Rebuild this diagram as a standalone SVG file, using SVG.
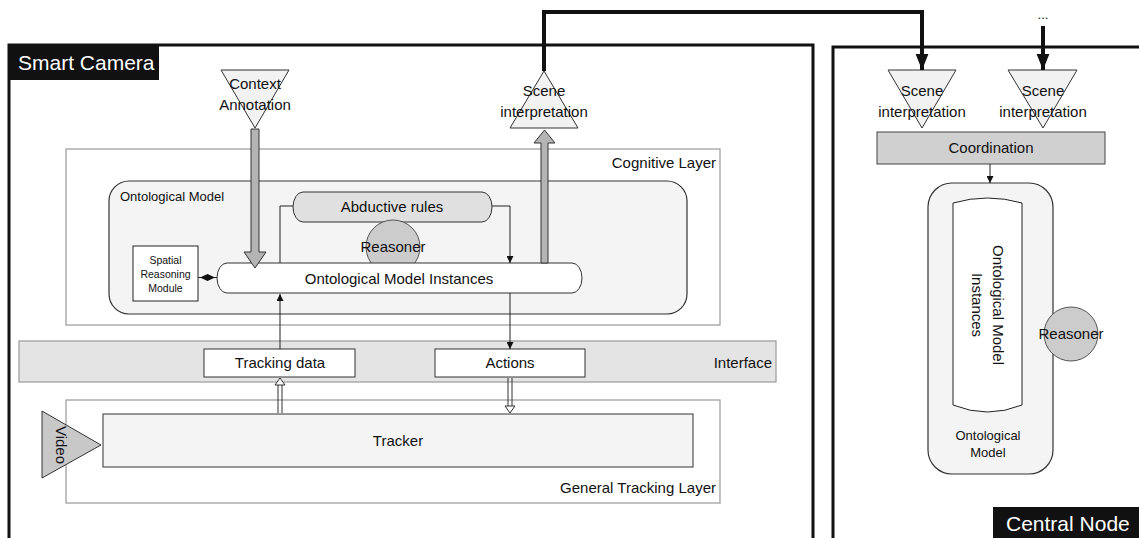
<svg xmlns="http://www.w3.org/2000/svg" width="1139" height="538" viewBox="0 0 1139 538">
<style>
text{font-family:"Liberation Sans",Arial,sans-serif;fill:#111}
.lbl{font-size:15px}
.c{text-anchor:middle}
.r{text-anchor:end}
.layer{fill:#fff;stroke:#a0a0a0;stroke-width:1.3}
.frame{fill:none;stroke:#111;stroke-width:3}
.tri{fill:#f2f2f2;stroke:#333;stroke-width:1}
.thin{fill:none;stroke:#222;stroke-width:1}
.fat{fill:#b4b4b4;stroke:#333;stroke-width:1}
.black{fill:none;stroke:#111;stroke-width:4}
</style>
<defs>
<marker id="ah" viewBox="0 0 10 10" refX="10" refY="5" markerWidth="7" markerHeight="7" orient="auto" markerUnits="userSpaceOnUse">
<path d="M0,0 L10,5 L0,10 Z" fill="#111"/>
</marker>
<marker id="bh" viewBox="0 0 10 10" refX="10" refY="5" markerWidth="16" markerHeight="16" orient="auto" markerUnits="userSpaceOnUse">
<path d="M0,1 L10,5 L0,9 Z" fill="#111"/>
</marker>
</defs>

<!-- frames -->
<g id="smart-camera">
<path class="frame" d="M9,540 V45 H813 V540"/>
<rect x="9" y="45" width="150" height="35" fill="#111"/>
<text x="18" y="70" style="font-size:21px;fill:#fff">Smart Camera</text>
</g>
<g id="central-node">
<path class="frame" d="M833,540 V47 H1141"/>
<rect x="993" y="507" width="148" height="33" fill="#111"/>
<text x="1006" y="531" style="font-size:21px;fill:#fff">Central Node</text>
</g>

<!-- layers -->
<g id="cognitive-layer">
<rect class="layer" x="66" y="149" width="654" height="176"/>
<text class="lbl r" x="716" y="168">Cognitive Layer</text>
</g>
<g id="ontological-model">
<rect x="109" y="181" width="578" height="133" rx="20" fill="#f4f4f4" stroke="#333" stroke-width="1.2"/>
<text x="120" y="201" style="font-size:13px">Ontological Model</text>
</g>
<g id="interface">
<rect x="19" y="341" width="757" height="41" fill="#e4e4e4" stroke="#a0a0a0" stroke-width="1.3"/>
<text class="lbl r" x="772" y="368">Interface</text>
</g>
<g id="general-tracking-layer">
<rect class="layer" x="66" y="400" width="654" height="103"/>
<text class="lbl r" x="716" y="493">General Tracking Layer</text>
</g>

<!-- nodes -->
<g id="context-annotation">
<polygon class="tri" points="221,70 289,70 255,128"/>
<text class="lbl c" x="255" y="89">Context</text>
<text class="lbl c" x="255" y="110">Annotation</text>
</g>
<g id="scene-interpretation-out">
<polygon class="tri" points="544,71 578,128 510,128"/>
<text class="lbl c" x="544" y="96">Scene</text>
<text class="lbl c" x="544" y="117">interpretation</text>
</g>
<g id="abductive-rules">
<rect x="293" y="192" width="199" height="30" rx="10" ry="15" fill="#e0e0e0" stroke="#333" stroke-width="1"/>
<text class="lbl c" x="392" y="212">Abductive rules</text>
</g>
<g id="reasoner">
<circle cx="393" cy="247" r="27" fill="#cccccc" stroke="#555" stroke-width="1"/>
<text class="lbl c" x="393" y="252">Reasoner</text>
</g>
<g id="model-instances">
<rect x="217" y="263" width="365" height="30" rx="10" ry="15" fill="#fff" stroke="#333" stroke-width="1"/>
<text class="lbl c" x="399" y="284">Ontological Model Instances</text>
</g>
<g id="spatial-reasoning">
<rect x="133" y="246" width="65" height="55" fill="#fff" stroke="#222" stroke-width="1"/>
<text class="c" x="165.5" y="264" style="font-size:10.5px">Spatial</text>
<text class="c" x="165.5" y="278" style="font-size:10.5px">Reasoning</text>
<text class="c" x="165.5" y="292" style="font-size:10.5px">Module</text>
</g>
<g id="tracking-data">
<rect x="204" y="349" width="151" height="28" fill="#fff" stroke="#333" stroke-width="1"/>
<text class="lbl c" x="280" y="368">Tracking data</text>
</g>
<g id="actions">
<rect x="435" y="349" width="150" height="28" fill="#fff" stroke="#333" stroke-width="1"/>
<text class="lbl c" x="510" y="368">Actions</text>
</g>
<g id="tracker">
<rect x="103" y="414" width="590" height="53" fill="#f4f4f4" stroke="#333" stroke-width="1"/>
<text class="lbl c" x="398" y="446">Tracker</text>
</g>
<g id="video">
<polygon points="42,411 101,445 42,478" fill="#c8c8c8" stroke="#333" stroke-width="1"/>
<text class="lbl c" transform="translate(56,445) rotate(90)" x="0" y="0">Video</text>
</g>
<g id="scene-interpretation-1">
<polygon class="tri" points="888,70 956,70 922,128"/>
<text class="lbl c" x="922" y="96">Scene</text>
<text class="lbl c" x="922" y="117">interpretation</text>
</g>
<g id="scene-interpretation-2">
<polygon class="tri" points="1008,70 1077,70 1043,128"/>
<text class="lbl c" x="1043" y="96">Scene</text>
<text class="lbl c" x="1043" y="117">interpretation</text>
</g>
<g id="coordination">
<rect x="877" y="132" width="228" height="32" fill="#d0d0d0" stroke="#444" stroke-width="1"/>
<text class="lbl c" x="991" y="153">Coordination</text>
</g>
<g id="central-ontological-model">
<rect x="928" y="183" width="125" height="291" rx="24" fill="#f4f4f4" stroke="#333" stroke-width="1.2"/>
<path d="M953,203 Q987.5,193 1022,203 L1022,405 Q987.5,419 953,405 Z" fill="#fff" stroke="#222" stroke-width="1"/>
<text class="lbl c" transform="translate(987,305) rotate(90)" x="0" y="-6">Ontological Model</text>
<text class="lbl c" transform="translate(987,305) rotate(90)" x="0" y="15">Instances</text>
<text class="c" x="988" y="440" style="font-size:13px">Ontological</text>
<text class="c" x="988" y="457" style="font-size:13px">Model</text>
</g>
<g id="central-reasoner">
<circle cx="1071" cy="334" r="27" fill="#cccccc" stroke="#555" stroke-width="1"/>
<text class="lbl c" x="1071" y="339">Reasoner</text>
</g>

<!-- connectors -->
<g id="connectors">
<polygon class="fat" points="251,129 259,129 259,252 266,252 255,268 244,252 251,252"/>
<polygon class="fat" points="541,263 548,263 548,143 555,143 544.5,130 534,143 541,143"/>
<path class="thin" d="M293,206 H280 V263"/>
<path class="thin" d="M492,206 H510 V263" marker-end="url(#ah)"/>
<path class="thin" d="M280,349 V294" marker-end="url(#ah)"/>
<path class="thin" d="M510,293 V349" marker-end="url(#ah)"/>
<path class="thin" d="M198,277.5 H217"/>
<polygon points="200,277.5 207.5,274 215,277.5 207.5,281" fill="#111"/>
<!-- hollow double arrows -->
<path d="M278,413 V384 M282,413 V384" stroke="#333" stroke-width="1" fill="none"/>
<polygon points="275,385 280,378 285,385" fill="#fff" stroke="#333" stroke-width="1"/>
<path d="M508,378 V406 M512,378 V406" stroke="#333" stroke-width="1" fill="none"/>
<polygon points="505,406 510,413 515,406" fill="#fff" stroke="#333" stroke-width="1"/>
<!-- black links -->
<path class="black" d="M544,71 V12 H922 V60"/>
<path d="M922,56 L922,70" marker-end="url(#bh)" stroke="#111" stroke-width="4"/>
<path d="M1043,26 V60" class="black"/>
<path d="M1043,56 L1043,70" marker-end="url(#bh)" stroke="#111" stroke-width="4"/>
<text class="c" x="1043" y="19" style="font-size:13px">...</text>
<path class="thin" d="M990,164 V183" marker-end="url(#ah)"/>
</g>
</svg>
